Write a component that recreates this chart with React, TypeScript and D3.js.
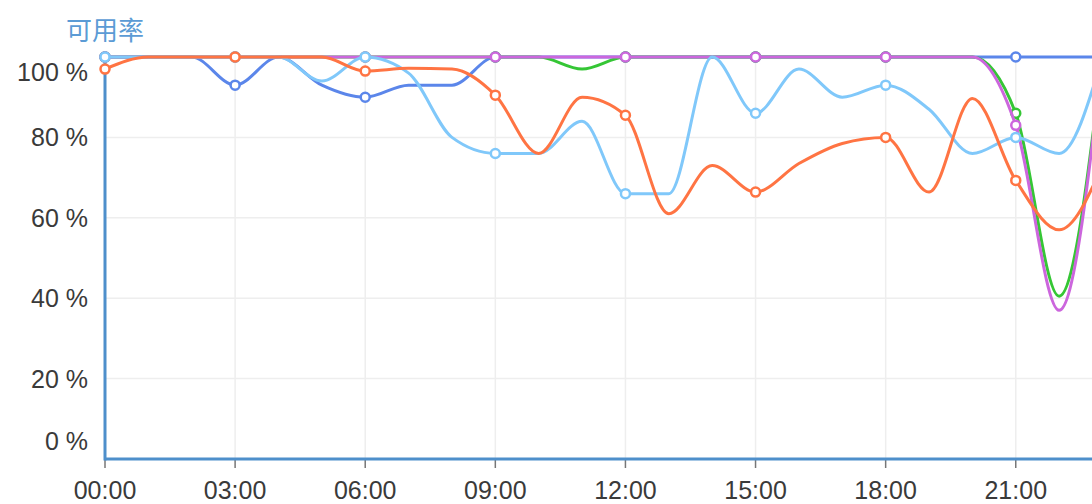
import React from "react";
import * as d3 from "d3";

const hours: number[] = d3.range(0, 24);
const hourLabels: string[] = hours.map((h) => `${String(h).padStart(2, "0")}:00`);
const yTicks: number[] = [0, 20, 40, 60, 80, 100];
const title = "可用率";

const seriesDarkBlue: number[] = [100, 100, 100, 93, 100, 93, 90, 93, 93, 100, 100, 100, 100, 100, 100, 100, 100, 100, 100, 100, 100, 100, 100, 100];
const seriesLightBlue: number[] = [100, 100, 100, 100, 100, 94, 100, 96, 80, 76, 76, 84, 66, 66, 100, 86, 97, 90, 93, 87, 76, 80, 76, 100];
const seriesOrange: number[] = [97, 100, 100, 100, 100, 100, 96.5, 97.2, 97, 90.5, 76, 90, 85.5, 61, 73, 66.4, 73.5, 78.5, 80, 66.4, 89.7, 69.3, 57, 73];
const seriesGreen: number[] = [100, 100, 100, 100, 100, 100, 100, 100, 100, 100, 100, 97, 100, 100, 100, 100, 100, 100, 100, 100, 100, 86, 40.5, 100];
const seriesPurple: number[] = [100, 100, 100, 100, 100, 100, 100, 100, 100, 100, 100, 100, 100, 100, 100, 100, 100, 100, 100, 100, 100, 83, 37, 100];

// drawn bottom to top
const series = [
  { name: "darkBlue", color: "#5b86ea", values: seriesDarkBlue },
  { name: "green", color: "#35c635", values: seriesGreen },
  { name: "purple", color: "#cc66dd", values: seriesPurple },
  { name: "lightBlue", color: "#80c8fa", values: seriesLightBlue },
  { name: "orange", color: "#ff7443", values: seriesOrange },
];

const W = 1092;
const H = 504;

export default function App() {
  const x = d3.scaleLinear().domain([0, 23]).range([105, 1102.5]);
  const y = d3.scaleLinear().domain([0, 100]).range([459, 57]);
  const line = d3
    .line<number>()
    .x((_, i) => x(hours[i]))
    .y((d) => y(d))
    .curve(d3.curveMonotoneX);
  const xTickHours = hours.filter((h) => h % 3 === 0);
  const font = "'Liberation Sans', Arial, Helvetica, sans-serif";
  const labelDy = (t: number) => (t === 100 ? 15 : t === 0 ? -18 : 0);

  return (
    <svg
      width={W}
      height={H}
      style={{ position: "fixed", left: 0, top: 0, background: "#fff" }}
      xmlns="http://www.w3.org/2000/svg"
    >
      <text
        x={66}
        y={28}
        fill="#5b9bd5"
        fontSize={26}
        fontFamily="'Noto Sans CJK SC', sans-serif"
        dominantBaseline="central"
      >
        {title}
      </text>
      {/* grid */}
      {yTicks
        .filter((t) => t > 0 && t < 100)
        .map((t) => (
          <line key={"gy" + t} x1={x(0)} x2={W} y1={y(t)} y2={y(t)} stroke="#eeeeee" strokeWidth={1.5} />
        ))}
      {xTickHours
        .filter((h) => h > 0)
        .map((h) => (
          <line key={"gx" + h} x1={x(h)} x2={x(h)} y1={y(100)} y2={y(0)} stroke="#eeeeee" strokeWidth={1.5} />
        ))}
      {/* y labels */}
      {yTicks.map((t) => (
        <text
          key={"yl" + t}
          x={88}
          y={y(t) + labelDy(t)}
          textAnchor="end"
          dominantBaseline="central"
          fontSize={25}
          fontFamily={font}
          fill="#3a3a3a"
        >
          {`${t} %`}
        </text>
      ))}
      {/* x ticks and labels */}
      {xTickHours.map((h) => (
        <g key={"xt" + h}>
          <line x1={x(h)} x2={x(h)} y1={y(0)} y2={y(0) + 9} stroke="#777" strokeWidth={1.5} />
          <text
            x={x(h)}
            y={490}
            textAnchor="middle"
            dominantBaseline="central"
            fontSize={25}
            fontFamily={font}
            fill="#3a3a3a"
          >
            {hourLabels[h]}
          </text>
        </g>
      ))}
      {/* axes */}
      <line x1={x(0)} x2={x(0)} y1={y(100)} y2={y(0) + 1.5} stroke="#4e8fcb" strokeWidth={3} />
      <line x1={x(0)} x2={W} y1={y(0)} y2={y(0)} stroke="#4e8fcb" strokeWidth={3} />
      {/* series */}
      {series.map((s) => (
        <g key={s.name}>
          <path d={line(s.values) || ""} fill="none" stroke={s.color} strokeWidth={3} />
          {s.values.map((v, i) =>
            hours[i] % 3 === 0 ? (
              <circle key={i} cx={x(hours[i])} cy={y(v)} r={4.5} fill="#fff" stroke={s.color} strokeWidth={2.5} />
            ) : null
          )}
        </g>
      ))}
    </svg>
  );
}
